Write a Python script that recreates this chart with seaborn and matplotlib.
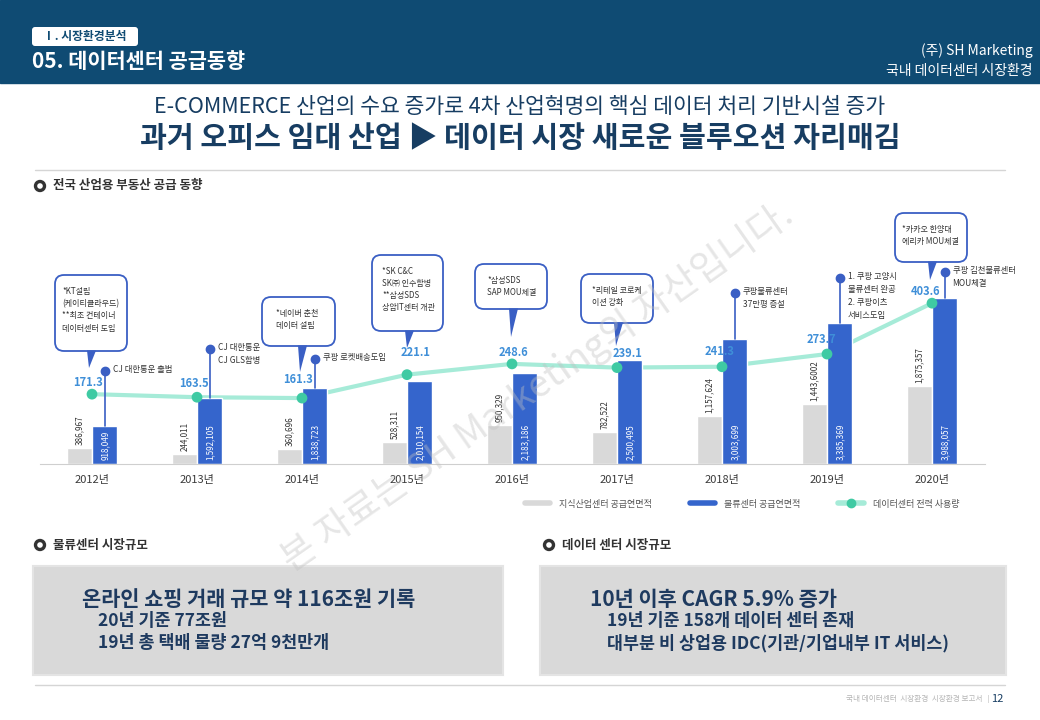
import numpy as np
import pandas as pd
import matplotlib.pyplot as plt
import seaborn as sns
from matplotlib.patches import FancyBboxPatch, Rectangle, Polygon, Circle
from matplotlib.lines import Line2D
from matplotlib.transforms import Affine2D

# ---- data ----
years = ['2012년', '2013년', '2014년', '2015년', '2016년', '2017년', '2018년', '2019년', '2020년']
knowledge_area = [386967, 244011, 360696, 528311, 950329, 782522, 1157624, 1443600, 1875357]
knowledge_labels = ['386,967', '244,011', '360,696', '528,311', '950,329', '782,522',
                    '1,157,624', '1,443,6002', '1,875,357']
logistics_area = [918049, 1592105, 1838723, 2010154, 2183186, 2500495, 3003699, 3385369, 3988057]
power_use = [171.3, 163.5, 161.3, 221.1, 248.6, 239.1, 241.3, 273.7, 403.6]
series_names = ['지식산업센터 공급연면적', '물류센터 공급연면적', '데이터센터 전력 사용량']

pin_events = {0: 'CJ 대한통운 출범', 1: 'CJ 대한통운\nCJ GLS합병', 2: '쿠팡 로켓배송도입',
              6: '쿠팡물류센터\n37만평 증설', 7: '1. 쿠팡 고양시\n물류센터 완공\n2. 쿠팡이츠\n서비스도입',
              8: '쿠팡 김천물류센터\nMOU체결'}
bubble_events = {0: '*KT설립\n(케이티클라우드)\n**최초 컨테이너\n데이터센터 도입',
                 2: '*네이버 춘천\n데이터 설립',
                 3: '*SK C&C\nSK㈜ 인수합병\n**삼성SDS\n상암IT센터 개관',
                 4: '*삼성SDS\nSAP MOU체결',
                 5: '*리테일 코로케\n이션 강화',
                 8: '*카카오 한양대\n에리카 MOU체결'}

# ---- layout (pixels, y from top) ----
W, H = 1040, 720
AX_L, AX_R, AX_B, AX_T = 39.5, 984.5, 464, 200
BAR_TOP = 6.36e6
POWER_LIM = (-7, 667)
pin_top_px = {0: 371, 1: 349, 2: 359, 6: 293, 7: 278, 8: 272}
# x0, y0, x1, y1, text_x, tip_x, tip_y
bubble_box = {0: (55, 275, 127, 351, 62, 89, 368),
              2: (262, 297, 335, 346, 276, 300, 372),
              3: (372, 255, 443, 331, 382, 407, 348),
              4: (475, 264, 547, 309, 487, 511, 337),
              5: (581, 274, 653, 323, 592, 616, 346),
              8: (895, 213, 967, 262, 902, 930, 280)}
power_label_offset = [(-4, 12), (-3, 14), (-4, 19), (9, 22), (1, 11), (11, 14), (-2, 15), (-6, 15), (-6, 12)]

navy = '#0f4b73'
text_navy = '#173d62'
gray_bar = '#d9d9d9'
blue_bar = '#3565cc'
pin_blue = '#3a5fc4'
mint_line = '#a6ebd8'
mint_dot = '#3fcaa3'
label_blue = '#3f8fd8'

sns.set_style('white')
plt.rcParams['font.family'] = ['Noto Sans CJK KR', 'DejaVu Sans']

fig = plt.figure(figsize=(W / 100, H / 100), dpi=100)
T = Affine2D().scale(1 / W, -1 / H).translate(0, 1) + fig.transFigure


def px2val(y):
    return (AX_B - y) / (AX_B - AX_T) * BAR_TOP


# ---- header ----
fig.add_artist(Rectangle((0, 0), W, 83, transform=T, color=navy, zorder=0))
fig.add_artist(FancyBboxPatch((32, 27), 106, 19, boxstyle='round,pad=0,rounding_size=3',
                              transform=T, facecolor='white', edgecolor='none'))
fig.text(85 / W, 1 - 36.5 / H, 'Ⅰ. 시장환경분석', ha='center', va='center', fontsize=8.5,
         color=navy, fontweight='bold')
fig.text(32 / W, 1 - 62 / H, '05. 데이터센터 공급동향', ha='left', va='center', fontsize=15,
         color='white', fontweight='bold')
fig.text(1033 / W, 1 - 51 / H, '(주) SH Marketing', ha='right', va='center', fontsize=10, color='white')
fig.text(1033 / W, 1 - 71 / H, '국내 데이터센터 시장환경', ha='right', va='center', fontsize=10, color='white')

fig.text(520 / W, 1 - 107 / H, 'E-COMMERCE 산업의 수요 증가로 4차 산업혁명의 핵심 데이터 처리 기반시설 증가',
         ha='center', va='center', fontsize=15.5, color=text_navy)
fig.text(520 / W, 1 - 138 / H, '과거 오피스 임대 산업 ▶ 데이터 시장 새로운 블루오션 자리매김',
         ha='center', va='center', fontsize=21, color=text_navy, fontweight='bold')
fig.add_artist(Line2D([35, 1005], [170, 170], transform=T, color='#d5d5d5', lw=1))


def section(x, y, label):
    fig.add_artist(Circle((x, y), 4.5, transform=T, facecolor='none', edgecolor='#333333', lw=2.4))
    fig.text((x + 13) / W, 1 - y / H, label, ha='left', va='center', fontsize=9,
             color='#333333', fontweight='bold')


section(40, 186, '전국 산업용 부동산 공급 동향')

# ---- chart ----
ax = fig.add_axes([AX_L / W, 1 - AX_B / H, (AX_R - AX_L) / W, (AX_B - AX_T) / H])
ax2 = ax.twinx()
ax3 = ax.twinx()
ax2.set_zorder(1)
ax.set_zorder(2)
ax3.set_zorder(3)
for a in (ax, ax2, ax3):
    a.patch.set_visible(False)

bars = pd.DataFrame({'year': years * 2,
                     'series': [series_names[0]] * len(years) + [series_names[1]] * len(years),
                     'value': knowledge_area + logistics_area})
sns.barplot(data=bars, x='year', y='value', hue='series', palette=[gray_bar, blue_bar],
            width=0.48, gap=0, saturation=1, legend=False, ax=ax, zorder=2)

power = pd.DataFrame({'pos': np.arange(len(years)), 'power': power_use})
sns.lineplot(data=power, x='pos', y='power', ax=ax2, color=mint_line, linewidth=3)
sns.scatterplot(data=power, x='pos', y='power', ax=ax3, color=mint_dot, s=60,
                edgecolor='none', zorder=5)

ax.set_xlim(-0.5, len(years) - 0.5)
ax.set_ylim(0, BAR_TOP)
for a in (ax2, ax3):
    a.set_ylim(*POWER_LIM)
    a.set_yticks([])
    a.set_ylabel('')
    for s in a.spines.values():
        s.set_visible(False)
ax.set_yticks([])
ax.set_xlabel('')
ax.set_ylabel('')
for name, s in ax.spines.items():
    s.set_visible(name == 'bottom')
ax.spines['bottom'].set_color('#cfcfcf')
ax.tick_params(axis='x', length=0, pad=8, labelsize=8, labelcolor='#3a3a3a')

for i in range(len(years)):
    ax.annotate(knowledge_labels[i], (i - 0.12, knowledge_area[i]), xytext=(0, 3),
                textcoords='offset pixels', rotation=90, ha='center', va='bottom',
                fontsize=5.8, color='#333333', zorder=6)
    ax.annotate(f'{logistics_area[i]:,}', (i + 0.12, 0), xytext=(0.5, 4),
                textcoords='offset pixels', rotation=90, ha='center', va='bottom',
                fontsize=5.8, color='white', zorder=6)
    dx, dy = power_label_offset[i]
    ax3.annotate(f'{power_use[i]:.1f}', (i, power_use[i]), xytext=(dx, dy),
                 textcoords='offset pixels', ha='center', va='center', fontsize=8,
                 color=label_blue, fontweight='bold', zorder=6)

# event pins
for i, label in pin_events.items():
    top = px2val(pin_top_px[i])
    ax.plot([i + 0.12, i + 0.12], [logistics_area[i], top], color=pin_blue, lw=1.2, zorder=4)
    ax.plot([i + 0.12], [top], 'o', color=pin_blue, markersize=6, zorder=5)
    ax.annotate(label, (i + 0.12, top), xytext=(8, 6), textcoords='offset pixels',
                ha='left', va='top', fontsize=6, color='#333333', linespacing=1.55, zorder=6)

# speech bubbles
for i, label in bubble_events.items():
    x0, y0, x1, y1, tx, tipx, tipy = bubble_box[i]
    fig.add_artist(FancyBboxPatch((x0, y0), x1 - x0, y1 - y0,
                                  boxstyle='round,pad=0,rounding_size=9', transform=T,
                                  facecolor='white', edgecolor=pin_blue, lw=1.3, zorder=3))
    fig.add_artist(Polygon([(tipx - 2, y1 - 0.5), (tipx + 7, y1 - 0.5), (tipx, tipy)],
                           closed=True, transform=T, facecolor=pin_blue, edgecolor='none', zorder=3))
    fig.text(tx / W, 1 - (y0 + 12) / H, label, ha='left', va='top', fontsize=5.8,
             color='#333333', linespacing=1.45, zorder=4)

# legend
handles = [Line2D([], [], color=gray_bar, lw=4),
           Line2D([], [], color=blue_bar, lw=4),
           Line2D([], [], color=mint_line, lw=4, marker='o', markersize=6,
                  markerfacecolor=mint_dot, markeredgecolor=mint_dot)]
leg = fig.legend(handles, series_names, loc='center left', bbox_to_anchor=(525 / W, 1 - 504 / H),
                 ncol=3, frameon=False, fontsize=6.5, handlelength=2.8, handletextpad=1.0,
                 columnspacing=4.2, borderpad=0, borderaxespad=0)
for t in leg.get_texts():
    t.set_color('#555555')

# ---- lower boxes ----
section(40, 545, '물류센터 시장규모')
section(549, 545, '데이터 센터 시장규모')
fig.add_artist(Rectangle((33, 566), 470, 109, transform=T, facecolor='#d9d9d9',
                         edgecolor='#e4e4e4', lw=1.5))
fig.add_artist(Rectangle((540, 566), 466, 109, transform=T, facecolor='#d9d9d9',
                         edgecolor='#e4e4e4', lw=1.5))
box_navy = '#1e3a5f'
fig.text(82 / W, 1 - 599 / H, '온라인 쇼핑 거래 규모 약 116조원 기록', ha='left', va='center',
         fontsize=15, color=box_navy, fontweight='bold')
fig.text(98 / W, 1 - 621 / H, '20년 기준 77조원', ha='left', va='center', fontsize=12.5,
         color=box_navy, fontweight='bold')
fig.text(98 / W, 1 - 643 / H, '19년 총 택배 물량 27억 9천만개', ha='left', va='center',
         fontsize=12.5, color=box_navy, fontweight='bold')
fig.text(590 / W, 1 - 599 / H, '10년 이후 CAGR 5.9% 증가', ha='left', va='center',
         fontsize=15, color=box_navy, fontweight='bold')
fig.text(607 / W, 1 - 621 / H, '19년 기준 158개 데이터 센터 존재', ha='left', va='center',
         fontsize=12.5, color=box_navy, fontweight='bold')
fig.text(607 / W, 1 - 643 / H, '대부분 비 상업용 IDC(기관/기업내부 IT 서비스)', ha='left', va='center',
         fontsize=12.5, color=box_navy, fontweight='bold')

fig.add_artist(Line2D([35, 1005], [685, 685], transform=T, color='#d5d5d5', lw=1))
fig.text(990 / W, 1 - 699 / H, '국내 데이터센터  시장환경  시장환경 보고서   |', ha='right', va='center',
         fontsize=5.5, color='#b5b5b5')
fig.text(1003 / W, 1 - 699 / H, '12', ha='right', va='center', fontsize=8, color=text_navy)

# watermark
fig.text(537 / W, 1 - 387 / H, '본 자료는 SH Marketing의 자산입니다.', ha='center', va='center',
         rotation=35, rotation_mode='anchor', fontsize=27, color='#c0c0c0', alpha=0.4, zorder=10)

fig.savefig('out.png', dpi=100)
